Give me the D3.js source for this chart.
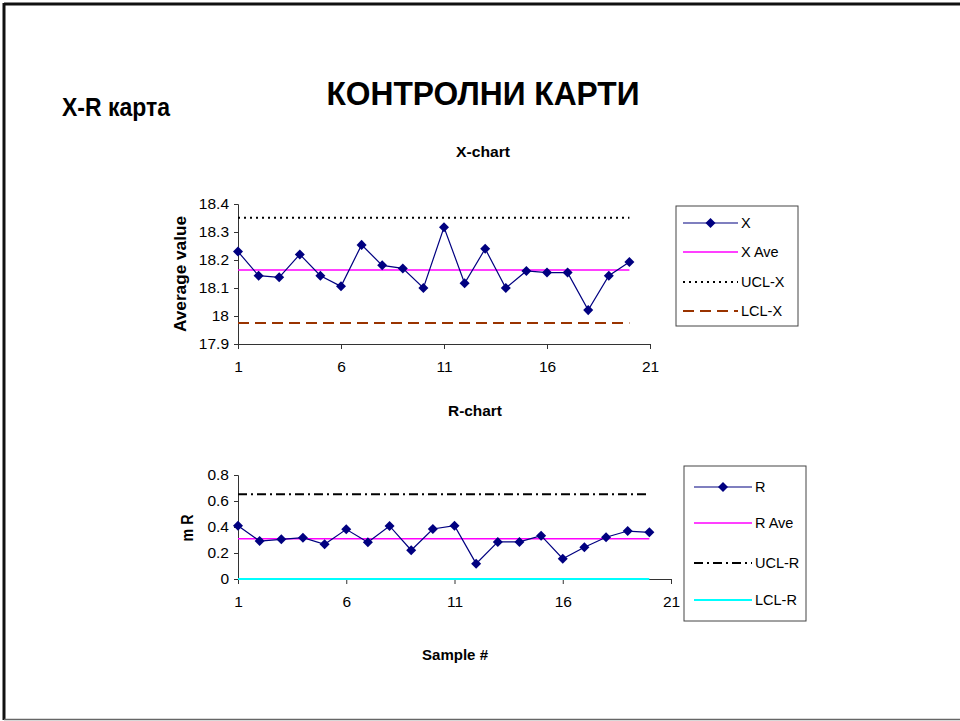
<!DOCTYPE html>
<html>
<head>
<meta charset="utf-8">
<script src="https://cdn.jsdelivr.net/npm/d3@7"></script>
<style>
  html, body { margin: 0; padding: 0; background: #fff; }
  svg { display: block; font-family: "Liberation Sans", Arial, sans-serif; }
</style>
</head>
<body>
<svg id="chart" width="960" height="721"></svg>
<script>
// Sample numbers 1..20
const samples = d3.range(1, 21);

// Subgroup averages (X-chart)
const xValues = [18.230, 18.144, 18.138, 18.220, 18.144, 18.106, 18.254, 18.181, 18.170, 18.100,
                 18.317, 18.117, 18.240, 18.100, 18.161, 18.155, 18.155, 18.021, 18.144, 18.193];
const xAve = 18.164;
const uclX = 18.351;
const lclX = 17.975;

// Moving ranges (R-chart)
const rValues = [0.410, 0.292, 0.305, 0.318, 0.267, 0.382, 0.282, 0.408, 0.221, 0.385,
                 0.410, 0.118, 0.285, 0.285, 0.333, 0.156, 0.244, 0.321, 0.369, 0.359];
const rAve = 0.310;
const uclR = 0.652;
const lclR = 0;

// Axis ticks
const xTicks = [1, 6, 11, 16, 21];
const xChartTicks = [17.9, 18, 18.1, 18.2, 18.3, 18.4];
const rChartTicks = [0, 0.2, 0.4, 0.6, 0.8];

const svg = d3.select("#chart");
const NAVY = "#000080";

// Slide frame
svg.append("line").attr("x1", 4).attr("y1", 4).attr("x2", 960).attr("y2", 4)
  .attr("stroke", "#111").attr("stroke-width", 3);
svg.append("line").attr("x1", 4).attr("y1", 3).attr("x2", 4).attr("y2", 720)
  .attr("stroke", "#111").attr("stroke-width", 3);
svg.append("line").attr("x1", 4).attr("y1", 719.5).attr("x2", 960).attr("y2", 719.5)
  .attr("stroke", "#666").attr("stroke-width", 1.5);

// Headings
svg.append("text").attr("x", 483).attr("y", 105).attr("text-anchor", "middle")
  .attr("font-size", 33).attr("font-weight", "bold")
  .attr("textLength", 313).attr("lengthAdjust", "spacingAndGlyphs")
  .text("КОНТРОЛНИ КАРТИ");
svg.append("text").attr("x", 62).attr("y", 116)
  .attr("font-size", 25).attr("font-weight", "bold")
  .attr("textLength", 108).attr("lengthAdjust", "spacingAndGlyphs")
  .text("X-R карта");

const diamond = d3.symbol().type(d3.symbolDiamond2).size(64);

function boldLabel(txt, x, y, size, len, rotate) {
  return svg.append("text")
    .attr("transform", `translate(${x},${y})${rotate ? " rotate(-90)" : ""}`)
    .attr("text-anchor", "middle").attr("font-size", size).attr("font-weight", "bold")
    .attr("textLength", len).attr("lengthAdjust", "spacingAndGlyphs")
    .text(txt);
}

function drawChart(cfg) {
  const g = svg.append("g");
  const x = d3.scaleLinear().domain([1, 21]).range(cfg.xRange);
  const y = d3.scaleLinear().domain(cfg.yDomain).range(cfg.yRange);

  // Axes
  const yAxis = d3.axisLeft(y).tickValues(cfg.yTicks).tickSize(4).tickPadding(5)
    .tickFormat(d3.format("~g"));
  const yG = g.append("g").attr("transform", `translate(${cfg.xRange[0]},0)`).call(yAxis);
  const xAxis = d3.axisBottom(x).tickValues(xTicks).tickSize(5).tickPadding(12)
    .tickFormat(d3.format("d"));
  const xG = g.append("g").attr("transform", `translate(0,${cfg.yRange[0]})`).call(xAxis);
  [yG, xG].forEach(a => {
    a.select(".domain").attr("stroke", "#333");
    a.selectAll(".tick line").attr("stroke", "#333");
    a.selectAll(".tick text").attr("font-size", 15.5).attr("fill", "#000")
      .attr("font-family", "'Liberation Sans', Arial, sans-serif");
  });

  // Reference lines spanning samples 1..20
  const x0 = x(samples[0]), x1 = x(samples[samples.length - 1]);
  cfg.refs.forEach(r => {
    g.append("line").attr("x1", x0).attr("x2", x1)
      .attr("y1", y(r.value)).attr("y2", y(r.value))
      .attr("stroke", r.color).attr("stroke-width", r.width)
      .attr("stroke-dasharray", r.dash || null);
  });

  // Data series
  const line = d3.line().x((d, i) => x(samples[i])).y(d => y(d));
  g.append("path").datum(cfg.values).attr("d", line)
    .attr("fill", "none").attr("stroke", NAVY).attr("stroke-width", 1.2);
  g.selectAll(".pt").data(cfg.values).join("path").attr("class", "pt")
    .attr("d", diamond)
    .attr("transform", (d, i) => `translate(${x(samples[i])},${y(d)})`)
    .attr("fill", NAVY);

  // Chart title and axis title
  boldLabel(cfg.title[0], cfg.title[1], cfg.title[2], 14, cfg.title[3], false);
  boldLabel(cfg.yTitle[0], cfg.yTitle[1], cfg.yTitle[2], 16, cfg.yTitle[3], true);

  // Legend
  const L = cfg.legend;
  svg.append("rect").attr("x", L.x).attr("y", L.y).attr("width", L.w).attr("height", L.h)
    .attr("fill", "#fff").attr("stroke", "#444").attr("stroke-width", 1);
  L.items.forEach((it, i) => {
    const yy = L.itemY[i];
    svg.append("line").attr("x1", L.lx1).attr("x2", L.lx2).attr("y1", yy).attr("y2", yy)
      .attr("stroke", it.color).attr("stroke-width", it.width)
      .attr("stroke-dasharray", it.dash || null);
    if (it.marker) {
      svg.append("path").attr("d", diamond)
        .attr("transform", `translate(${(L.lx1 + L.lx2) / 2},${yy})`).attr("fill", NAVY);
    }
    svg.append("text").attr("x", L.lx2 + 3).attr("y", yy + 5)
      .attr("font-size", 14.5).text(it.label);
  });
}

drawChart({
  values: xValues,
  xRange: [238, 650],
  yDomain: [17.9, 18.4],
  yRange: [344, 204],
  yTicks: xChartTicks,
  refs: [
    { value: xAve, color: "#ff00ff", width: 1.5 },
    { value: uclX, color: "#000", width: 2, dash: "2,4" },
    { value: lclX, color: "#993300", width: 2, dash: "11,6" }
  ],
  title: ["X-chart", 483, 157, 54],
  yTitle: ["Average value", 186, 274, 116],
  legend: {
    x: 676, y: 206, w: 122, h: 120, lx1: 683, lx2: 738,
    itemY: [223, 252, 282, 311],
    items: [
      { label: "X", color: NAVY, width: 1.2, marker: true },
      { label: "X Ave", color: "#ff00ff", width: 1.5 },
      { label: "UCL-X", color: "#000", width: 2, dash: "2,4" },
      { label: "LCL-X", color: "#993300", width: 2, dash: "11,6" }
    ]
  }
});

drawChart({
  values: rValues,
  xRange: [238, 671],
  yDomain: [0, 0.8],
  yRange: [579, 475],
  yTicks: rChartTicks,
  refs: [
    { value: rAve, color: "#ff00ff", width: 1.5 },
    { value: uclR, color: "#000", width: 2, dash: "9,4,2,4" },
    { value: lclR, color: "#00ffff", width: 2 }
  ],
  title: ["R-chart", 475, 416, 54],
  yTitle: ["m R", 193, 528, 27],
  legend: {
    x: 684, y: 466, w: 122, h: 155, lx1: 694, lx2: 752,
    itemY: [487, 523, 563, 600],
    items: [
      { label: "R", color: NAVY, width: 1.2, marker: true },
      { label: "R Ave", color: "#ff00ff", width: 1.5 },
      { label: "UCL-R", color: "#000", width: 2, dash: "9,4,2,4" },
      { label: "LCL-R", color: "#00ffff", width: 2 }
    ]
  }
});

// Shared x-axis title
boldLabel("Sample #", 455, 660, 14, 66, false);
</script>
</body>
</html>
